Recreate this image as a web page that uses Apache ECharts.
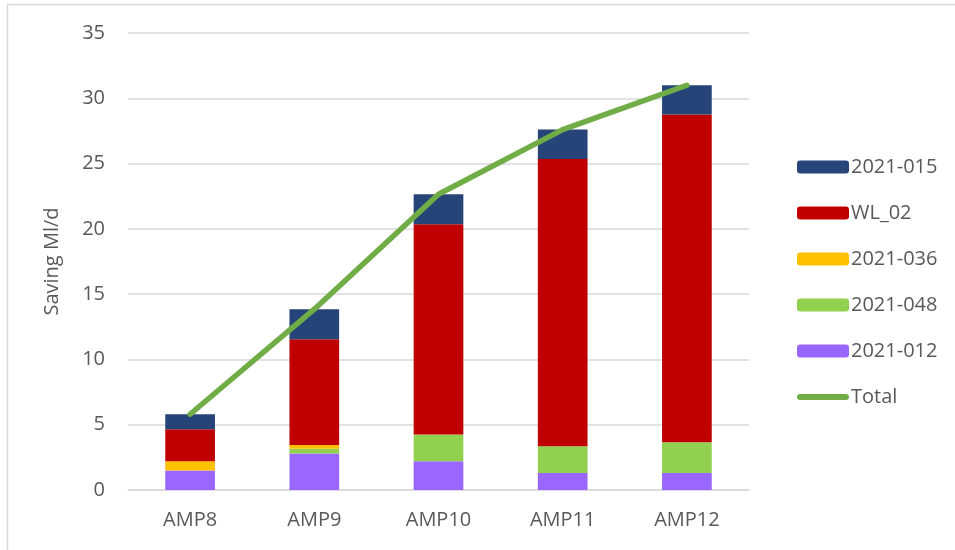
<!DOCTYPE html>
<html>
<head>
<meta charset="utf-8">
<script src="https://cdn.jsdelivr.net/npm/echarts@6/dist/echarts.min.js"></script>
<style>
  html, body { margin: 0; padding: 0; background: #fff; }
  #chart { width: 955px; height: 550px; }
</style>
</head>
<body>
<div id="chart"></div>
<script>
// categories
var periods = ['AMP8', 'AMP9', 'AMP10', 'AMP11', 'AMP12'];
// stacked savings (Ml/d), bottom to top
var s2021_012 = [1.5, 2.8, 2.2, 1.3, 1.3];
var s2021_048 = [0, 0.35, 2.05, 2.05, 2.35];
var s2021_036 = [0.7, 0.3, 0, 0, 0];
var wl02 = [2.45, 8.1, 16.1, 22.0, 25.1];
var s2021_015 = [1.15, 2.3, 2.3, 2.25, 2.25];
// total line
var total = [5.8, 13.85, 22.65, 27.6, 31.0];

var chart = echarts.init(document.getElementById('chart'));

function barSeries(name, data, color) {
  return {
    name: name,
    type: 'bar',
    stack: 'saving',
    barWidth: '40%',
    data: data,
    itemStyle: { color: color },
    emphasis: { disabled: true }
  };
}

var font = '"Open Sans", sans-serif';
var grey = '#595959';

chart.setOption({
  animation: false,
  textStyle: { fontFamily: font },
  graphic: [
    { type: 'line', shape: { x1: 7.5, y1: 4, x2: 7.5, y2: 550 }, style: { stroke: '#D9D9D9', lineWidth: 1.5 } },
    { type: 'line', shape: { x1: 7, y1: 4.5, x2: 955, y2: 4.5 }, style: { stroke: '#D9D9D9', lineWidth: 1.5 } }
  ],
  grid: { left: 128, right: 206, top: 33, bottom: 60 },
  legend: {
    orient: 'vertical',
    left: 792,
    top: 152,
    itemWidth: 52,
    itemHeight: 13,
    itemGap: 26,
    textStyle: { fontSize: 20, color: grey, padding: [0, 0, 0, -3] },
    data: ['2021-015', 'WL_02', '2021-036', '2021-048', '2021-012', {
      name: 'Total',
      icon: 'path://M3,0 L49,0 A3,3 0 0 1 49,6 L3,6 A3,3 0 0 1 3,0 Z'
    }]
  },
  xAxis: {
    type: 'category',
    data: periods,
    axisLine: { lineStyle: { color: '#D9D9D9', width: 1.5 } },
    axisTick: { show: false },
    axisLabel: { fontSize: 20, color: grey, margin: 20 }
  },
  yAxis: {
    type: 'value',
    min: 0,
    max: 35,
    interval: 5,
    name: 'Saving Ml/d',
    nameLocation: 'middle',
    nameGap: 66,
    nameTextStyle: { fontSize: 20, color: grey },
    axisLine: { show: false },
    axisTick: { show: false },
    axisLabel: { fontSize: 20, color: grey, margin: 23 },
    splitLine: { lineStyle: { color: '#D9D9D9', width: 1.5 } }
  },
  series: [
    barSeries('2021-012', s2021_012, '#9966FF'),
    barSeries('2021-048', s2021_048, '#92D050'),
    barSeries('2021-036', s2021_036, '#FFC000'),
    barSeries('WL_02', wl02, '#C00000'),
    barSeries('2021-015', s2021_015, '#264478'),
    {
      name: 'Total',
      type: 'line',
      data: total,
      symbol: 'none',
      lineStyle: { color: '#70AD47', width: 5.5, cap: 'round' },
      itemStyle: { color: '#70AD47' },
      z: 5
    }
  ]
});
</script>
</body>
</html>
